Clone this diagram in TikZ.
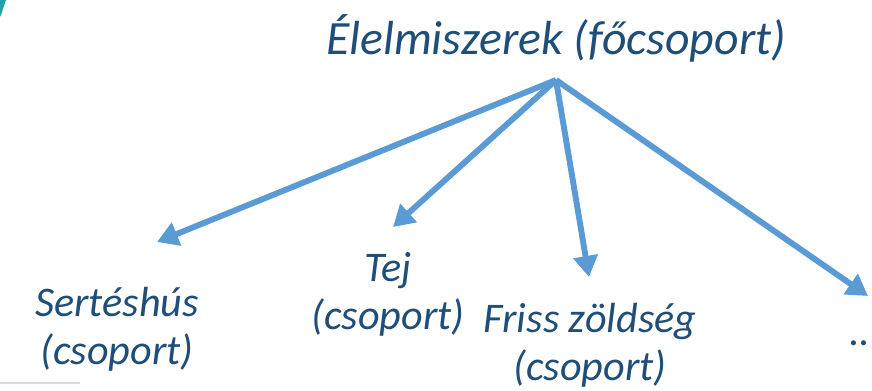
\documentclass[tikz,border=0pt]{standalone}
\usepackage{fontspec}
\setmainfont{Carlito}
\usetikzlibrary{arrows.meta}
\definecolor{group text}{HTML}{1F4E79}
\definecolor{group link}{HTML}{5B9BD5}
\definecolor{slide teal}{HTML}{1FA3A8}
\tikzset{grouplabel/.style={text=group text, font=\itshape\fontsize{30}{34}\selectfont,
        align=center, inner sep=0pt},
    mainlabel/.style={text=group text, font=\itshape\fontsize{34}{40}\selectfont, inner sep=0pt},
    link/.style={draw=group link, line width=4.2pt,
        -{Triangle[length=15pt, width=17pt]}}}

\begin{document}
\begin{tikzpicture}[x=0.025cm, y=0.025cm]
    \useasboundingbox (0,0) rectangle (872,390);
    % slide leftovers
    \fill[slide teal] (0,390) -- (6,390) -- (1,375) -- (0,373) -- cycle;
    \draw[black!15, line width=1.2pt] (0,7) -- (80,7);
    % labels
    \node[mainlabel, anchor=base] (food) at (556,335) {Élelmiszerek (főcsoport)};
    \node[grouplabel] (pork) at (117,61) {Sertéshús\\(csoport)};
    \node[grouplabel] (milk) at (388,96) {Tej\\(csoport)};
    \node[grouplabel] (veg) at (590,45) {Friss zöldség\\(csoport)};
    \node[grouplabel, anchor=base] (more) at (860,45) {..};
    % arrows
    \coordinate (hub) at (556,310);
    \coordinate (pork end) at (157,148);
    \coordinate (milk end) at (393,163);
    \coordinate (veg end) at (589,113);
    \coordinate (more end) at (868,94);
    \draw[link] (hub) -- (pork end);
    \draw[link] (hub) -- (milk end);
    \draw[link] (hub) -- (veg end);
    \draw[link] (hub) -- (more end);
\end{tikzpicture}
\end{document}
